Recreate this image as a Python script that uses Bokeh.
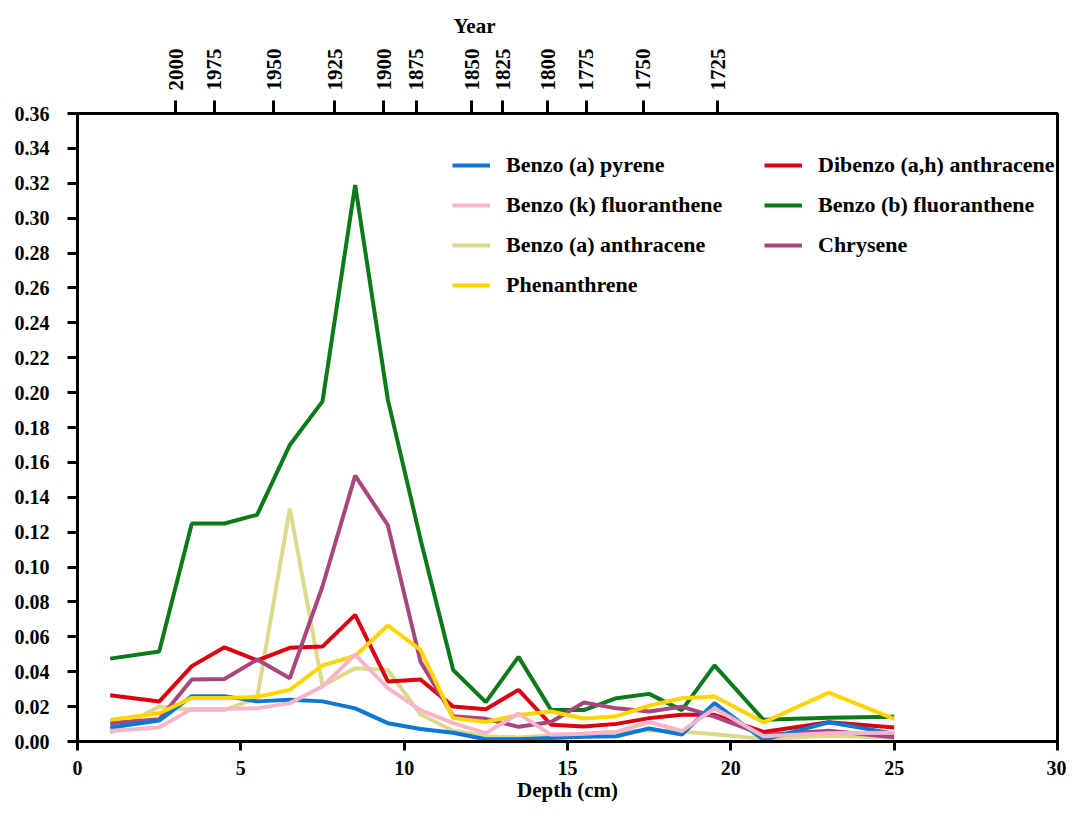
import math
from bokeh.plotting import figure
from bokeh.models import (LinearAxis, FixedTicker, Legend, LegendItem, Title,
                          PrintfTickFormatter, Range1d)
from bokeh.embed import file_html
from bokeh.resources import INLINE

# ---------------- data ----------------
depth = [1, 2.5, 3.5, 4.5, 5.5, 6.5, 7.5, 8.5, 9.5, 10.5, 11.5, 12.5, 13.5,
         14.5, 15.5, 16.5, 17.5, 18.5, 19.5, 21, 23, 25]

benzo_a_pyrene = [0.008, 0.012, 0.026, 0.026, 0.023, 0.024, 0.023, 0.019, 0.0105,
                  0.0072, 0.005, 0.0013, 0.0013, 0.002, 0.0027, 0.003, 0.0075,
                  0.004, 0.022, 0.001, 0.011, 0.0045]
benzo_k_fluoranthene = [0.006, 0.008, 0.0187, 0.0187, 0.019, 0.022, 0.0315, 0.0498,
                        0.0306, 0.018, 0.0105, 0.0048, 0.016, 0.0038, 0.0045,
                        0.0055, 0.0112, 0.006, 0.019, 0.003, 0.0048, 0.005]
benzo_a_anthracene = [0.005, 0.020, 0.018, 0.018, 0.025, 0.1335, 0.032, 0.042,
                      0.041, 0.0155, 0.0062, 0.003, 0.0023, 0.0035, 0.0045,
                      0.0055, 0.0065, 0.0058, 0.0042, 0.0015, 0.0033, 0.0022]
phenanthrene = [0.0124, 0.0162, 0.025, 0.025, 0.0255, 0.0296, 0.0436, 0.049, 0.0665,
                0.0525, 0.0134, 0.0112, 0.0152, 0.0172, 0.0132, 0.0145, 0.0205,
                0.0248, 0.0258, 0.011, 0.028, 0.013]
dibenzo_ah_anthracene = [0.0265, 0.0229, 0.0432, 0.054, 0.0465, 0.0537, 0.0544,
                         0.0726, 0.0344, 0.0355, 0.020, 0.0185, 0.0296, 0.0096,
                         0.0086, 0.0101, 0.0134, 0.0153, 0.0153, 0.0055, 0.011, 0.008]
benzo_b_fluoranthene = [0.0475, 0.0516, 0.125, 0.125, 0.130, 0.170, 0.195, 0.319,
                        0.196, 0.116, 0.041, 0.0226, 0.0485, 0.018, 0.018, 0.0248,
                        0.0273, 0.018, 0.0436, 0.0124, 0.0136, 0.0142]
chrysene = [0.0105, 0.0128, 0.0355, 0.0358, 0.047, 0.0363, 0.089, 0.1524, 0.124,
            0.0458, 0.0145, 0.013, 0.0084, 0.0112, 0.0224, 0.019, 0.0172, 0.02,
            0.0143, 0.0038, 0.0062, 0.0025]

x_ticks = [0, 5, 10, 15, 20, 25, 30]
y_ticks = [0.00, 0.02, 0.04, 0.06, 0.08, 0.10, 0.12, 0.14, 0.16, 0.18, 0.20,
           0.22, 0.24, 0.26, 0.28, 0.30, 0.32, 0.34, 0.36]
year_depths = [3.0, 4.18, 6.0, 7.88, 9.37, 10.37, 12.07, 13.02, 14.39, 15.58, 17.32, 19.6]
year_labels = ["2000", "1975", "1950", "1925", "1900", "1875", "1850", "1825",
               "1800", "1775", "1750", "1725"]

# ---------------- style ----------------
FONT = "Liberation Serif"
TICK_FS = "20px"

p = figure(width=1066, height=808, x_range=Range1d(0, 30), y_range=Range1d(0, 0.36),
           output_backend="svg", toolbar_location=None, title=None,
           min_border_left=77, min_border_right=9, min_border_top=113,
           min_border_bottom=67, background_fill_color="white",
           border_fill_color="white")
p.grid.visible = False
p.outline_line_color = "black"
p.outline_line_width = 3


def style_axis(ax):
    ax.axis_line_width = 3
    ax.axis_line_color = "black"
    ax.major_tick_line_width = 3
    ax.major_tick_line_color = "black"
    ax.major_tick_in = 0
    ax.minor_tick_line_color = None
    ax.major_label_text_font = FONT
    ax.major_label_text_font_style = "bold"
    ax.major_label_text_font_size = TICK_FS
    ax.major_label_text_color = "black"
    ax.axis_label_text_font = FONT
    ax.axis_label_text_font_style = "bold"
    ax.axis_label_text_font_size = "21px"
    ax.axis_label_text_color = "black"


xa = p.xaxis[0]
style_axis(xa)
xa.ticker = FixedTicker(ticks=x_ticks)
xa.major_tick_out = 9
xa.major_label_standoff = 10
xa.axis_label = "Depth (cm)"
xa.axis_label_standoff = 0

ya = p.yaxis[0]
style_axis(ya)
ya.ticker = FixedTicker(ticks=y_ticks)
ya.formatter = PrintfTickFormatter(format="%.2f")
ya.major_tick_out = 10
ya.major_label_standoff = 18

top = LinearAxis(ticker=FixedTicker(ticks=year_depths),
                 major_label_overrides={d: l for d, l in zip(year_depths, year_labels)},
                 major_label_orientation=math.pi / 2)
style_axis(top)
top.major_label_text_font_size = "21px"
top.major_tick_out = 13
top.major_label_standoff = 10
p.add_layout(top, "above")

p.add_layout(Title(text="Year", align="left", offset=376, text_font=FONT,
                   text_font_style="bold", text_font_size="21px",
                   text_color="black", standoff=16), "above")

# ---------------- lines ----------------
LW = 4
colors = {
    "blue": "#0a78d4", "pink": "#f8b4c9", "khaki": "#dcd98a", "yellow": "#ffd500",
    "red": "#dc0010", "green": "#0b7a18", "purple": "#a8467e",
}
r_green = p.line(depth, benzo_b_fluoranthene, line_color=colors["green"], line_width=LW)
r_khaki = p.line(depth, benzo_a_anthracene, line_color=colors["khaki"], line_width=LW)
r_red = p.line(depth, dibenzo_ah_anthracene, line_color=colors["red"], line_width=LW)
r_purple = p.line(depth, chrysene, line_color=colors["purple"], line_width=LW)
r_blue = p.line(depth, benzo_a_pyrene, line_color=colors["blue"], line_width=LW)
r_yellow = p.line(depth, phenanthrene, line_color=colors["yellow"], line_width=LW)
r_pink = p.line(depth, benzo_k_fluoranthene, line_color=colors["pink"], line_width=LW)


def make_legend(items, loc):
    leg = Legend(items=items, location=loc, orientation="vertical",
                 padding=0, margin=0, spacing=14, glyph_width=38, glyph_height=20,
                 label_height=20, label_standoff=16, border_line_color=None,
                 background_fill_alpha=0, label_text_font=FONT,
                 label_text_font_style="bold", label_text_font_size="22px",
                 label_text_color="black")
    return leg


leg1 = make_legend([
    LegendItem(label="Benzo (a) pyrene", renderers=[r_blue]),
    LegendItem(label="Benzo (k) fluoranthene", renderers=[r_pink]),
    LegendItem(label="Benzo (a) anthracene", renderers=[r_khaki]),
    LegendItem(label="Phenanthrene", renderers=[r_yellow]),
], (375, 443))
leg2 = make_legend([
    LegendItem(label="Dibenzo (a,h) anthracene", renderers=[r_red]),
    LegendItem(label="Benzo (b) fluoranthene", renderers=[r_green]),
    LegendItem(label="Chrysene", renderers=[r_purple]),
], (687, 483))
p.add_layout(leg1, "center")
p.add_layout(leg2, "center")

open("out.html", "w").write(file_html(p, INLINE))
